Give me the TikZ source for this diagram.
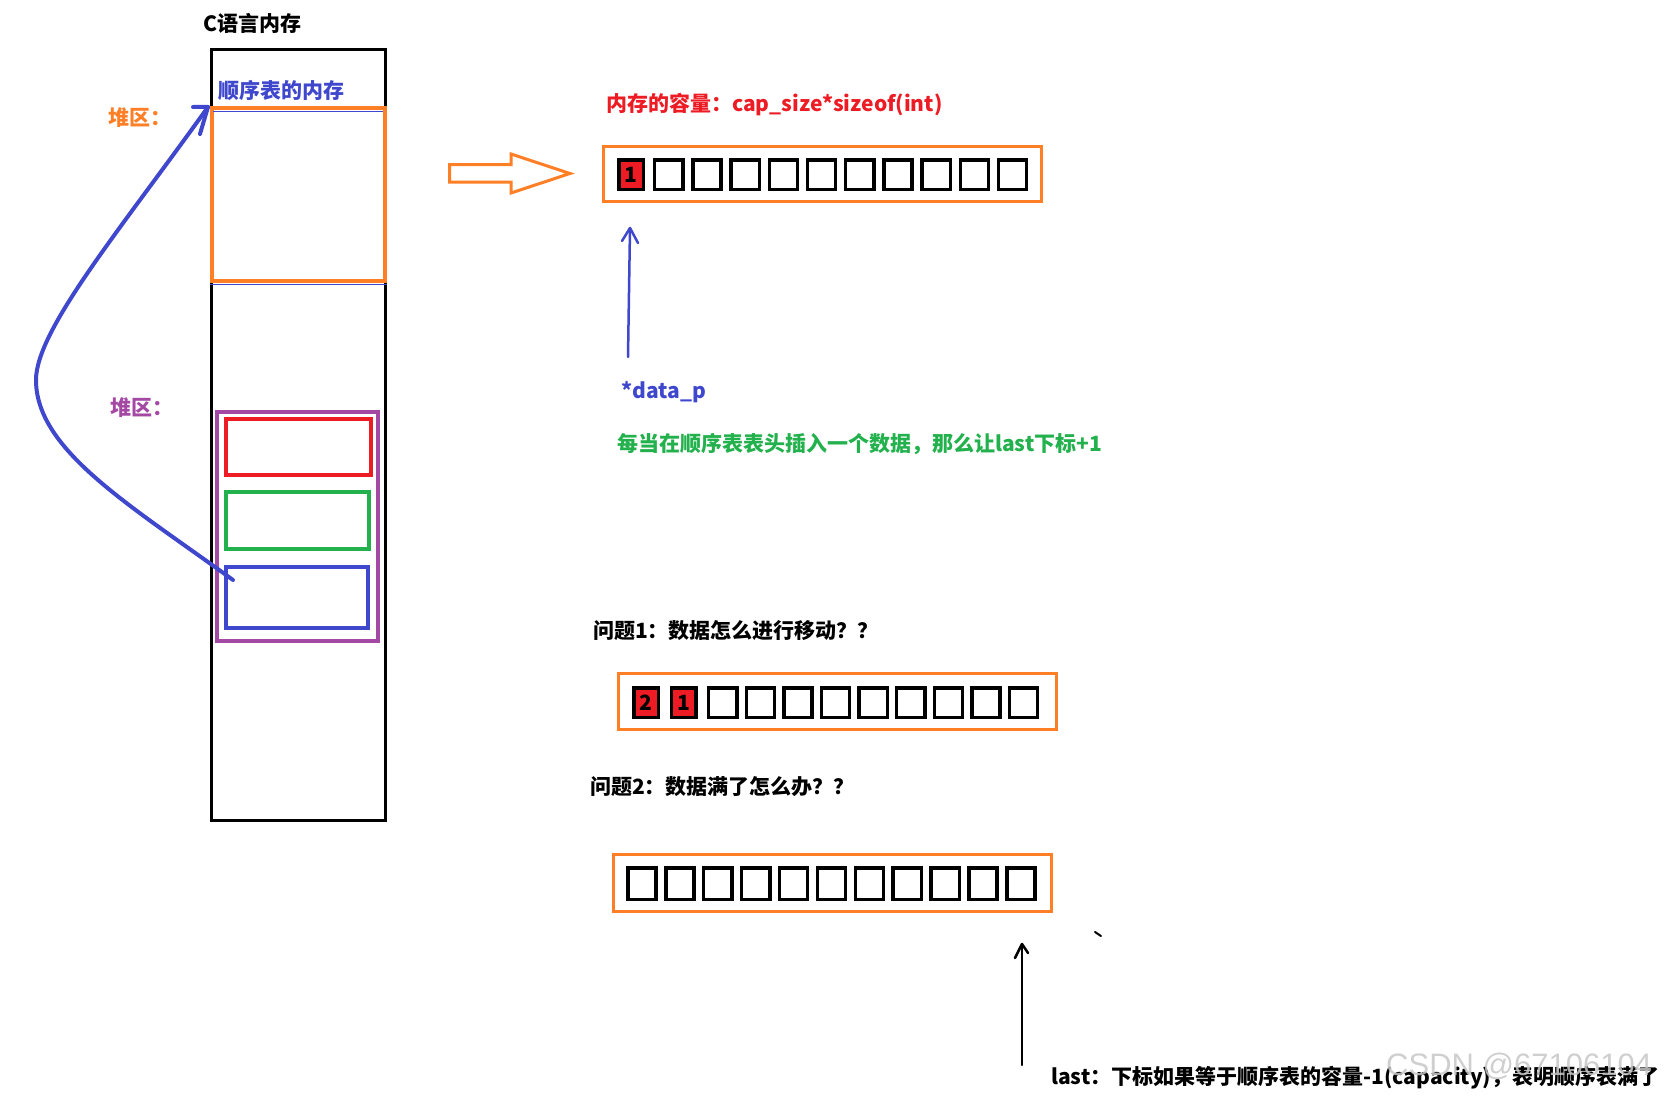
\documentclass[tikz,border=0pt]{standalone}
\usepackage{fontspec}
\setmainfont{Noto Sans CJK SC}
\newfontfamily\wmfont{Liberation Sans}
\definecolor{pblue}{HTML}{3F48CC}
\definecolor{porange}{HTML}{FF7F27}
\definecolor{pred}{HTML}{ED1C24}
\definecolor{pgreen}{HTML}{22B14C}
\definecolor{ppurple}{HTML}{A349A4}
\begin{document}
\begin{tikzpicture}[x=1pt,y=-1pt,
  font=\fontsize{21}{24}\selectfont\bfseries,
  lbl/.style={anchor=west, inner sep=0pt},
  cell/.style={draw=black, line width=3.5pt, minimum width=28.2pt,
    minimum height=29.5pt, inner sep=0pt},
  redcell/.style={cell, fill=pred, minimum width=24.5pt},
  frame/.style={draw=porange, line width=3pt, minimum width=438pt, inner sep=0pt},
  box/.style={line width=4pt, inner sep=0pt},
  pen/.style={line width=#1, line cap=round, line join=round}]
\useasboundingbox (0,0) rectangle (1665,1097);

% ---------- memory column ----------
\node[draw=black, line width=3pt, minimum width=174pt, minimum height=771pt, inner sep=0pt] (mem) at (298.5,435) {};
\node[box, draw=porange, minimum width=173pt, minimum height=173pt] (heap) at (298.5,194.5) {};
\draw[pblue, line width=0.6pt] (213,111.5) -- (383,111.5);
\draw[pblue, line width=0.6pt] (210,284.5) -- (387,284.5);
\node[box, draw=ppurple, minimum width=161pt, minimum height=229pt] (pool) at (297.5,526.5) {};
\node[box, draw=pred, minimum width=145pt, minimum height=56pt] (blkr) at (298.5,447) {};
\node[box, draw=pgreen, minimum width=143pt, minimum height=57pt] (blkg) at (297.5,520.5) {};
\node[box, draw=pblue, minimum width=142pt, minimum height=61pt] (blkb) at (297,597.5) {};

\node[lbl] (title) at (203,23) {C语言内存};
\node[lbl, text=pblue] (seqmem) at (218,90) {顺序表的内存};
\node[lbl, text=porange] (heap1) at (108,118) {堆区：};
\node[lbl, text=ppurple] (heap2) at (110,408) {堆区：};

% pointer from the block to the table storage
\coordinate (pstart) at (233,580);
\coordinate (ptip) at (208,107);
\draw[pblue, pen=4pt] (pstart) .. controls (130,505) and (36,450) .. (36,380)
  .. controls (36,330) and (120,230) .. (ptip);
\draw[pblue, pen=4pt] (193,107) -- (ptip) -- (200,134);

% hollow arrow
\draw[porange, line width=3pt, line join=miter]
  (449.5,164.5) -- (511,164.5) -- (511,154) -- (570,173.5) -- (511,193)
  -- (511,182) -- (449.5,182) -- cycle;

% ---------- first array ----------
\node[text=pred, lbl] (cap) at (606,105) {内存的容量：cap\_size*sizeof(int)};
\node[frame, minimum height=55pt] (arrA) at (822.5,174) {};
\node[redcell] (a0) at (631,174.5) {\raisebox{-2pt}{1}};
\foreach \i in {1,...,10}
  \node[cell] (a\i) at ({668.8+38.2*(\i-1)},174.5) {};

\coordinate (dpfoot) at (628,357);
\coordinate (dptip) at (630,228);
\draw[pblue, pen=2.5pt] (dpfoot) -- (629,292) -- (dptip);
\draw[pblue, pen=2.5pt] (622,241) -- (dptip) -- (638,243);
\node[lbl, text=pblue] (datap) at (621,392) {*data\_p};
\node[lbl, text=pgreen] (note) at (617,444) {每当在顺序表表头插入一个数据，那么让last下标+1};

% ---------- second array ----------
\node[lbl] (q1) at (593,631) {问题1：数据怎么进行移动？？};
\node[frame, minimum height=56pt] (arrB) at (837.5,701.5) {};
\node[redcell] (b0) at (646,702.5) {2};
\node[redcell] (b1) at (683.5,702.5) {\raisebox{-4pt}{1}};
\foreach \i in {1,...,9}
  \node[cell] (b\i x) at ({722.8+37.6*(\i-1)},702.5) {};

% ---------- third array ----------
\node[lbl] (q2) at (590,787) {问题2：数据满了怎么办？？};
\node[frame, minimum height=57pt] (arrC) at (832.5,883) {};
\foreach \i in {1,...,11}
  \node[cell, minimum height=31.5pt] (c\i) at ({642+37.9*(\i-1)},883.5) {};

\coordinate (lastfoot) at (1022,1065);
\coordinate (lasttip) at (1022,944);
\draw[black, pen=2.5pt] (lastfoot) -- (lasttip);
\draw[black, pen=2.5pt] (1015,958) -- (lasttip) -- (1028,953);
\draw[black, pen=2pt] (1095,932) -- (1101,936);
\node[lbl] (lastnote) at (1051,1078) {last：下标如果等于顺序表的容量-1(capacity)，表明顺序表满了};

\node[lbl, text=black!22, opacity=0.85] (wm) at (1386,1066)
  {\wmfont\mdseries\fontsize{31}{32}\selectfont CSDN @67106104};
\end{tikzpicture}
\end{document}
